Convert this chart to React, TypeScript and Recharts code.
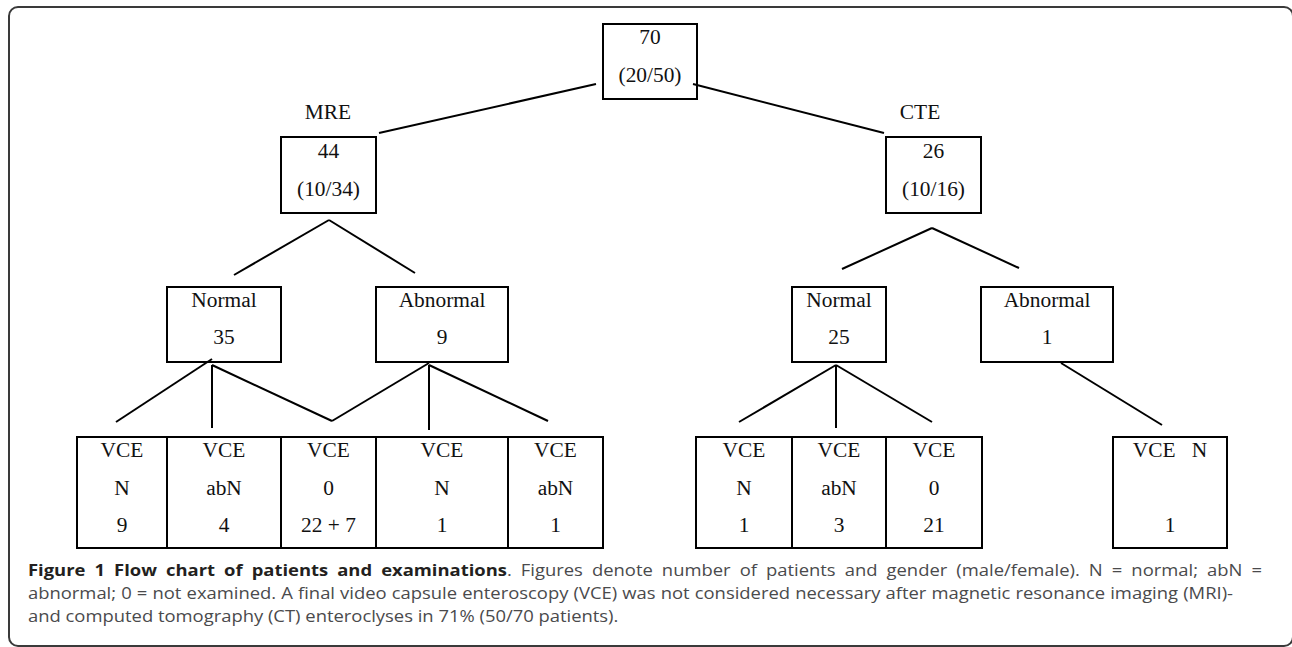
import React from 'react';
import { ScatterChart, XAxis, YAxis, Scatter, ReferenceArea, ReferenceLine } from 'recharts';

// ---------- data ----------
const rootPatients = '70';
const rootGender = '(20/50)';
const armNames = ['MRE', 'CTE'];
const armPatients = ['44', '26'];
const armGender = ['(10/34)', '(10/16)'];
const findingNames = ['Normal', 'Abnormal', 'Normal', 'Abnormal'];
const findingPatients = ['35', '9', '25', '1'];
const vceHeader = 'VCE';
const vceResults = ['N', 'abN', '0', 'N', 'abN', 'N', 'abN', '0', 'N'];
const vceCounts = ['9', '4', '22 + 7', '1', '1', '1', '3', '21', '1'];
const captionTitle = 'Figure 1 Flow chart of patients and examinations';
const captionLines = [
  '. Figures denote number of patients and gender (male/female). N = normal; abN =',
  'abnormal; 0 = not examined. A final video capsule enteroscopy (VCE) was not considered necessary after magnetic resonance imaging (MRI)-',
  'and computed tomography (CT) enteroclyses in 71% (50/70 patients).',
];

// ---------- layout (chart units = page pixels) ----------
const W = 1292;
const H = 647;
const rootBox = [603, 697, 24, 99];
const armBoxes = [[281, 376, 137, 213], [886, 981, 137, 213]];
const armLabelPos = [[328, 112.5], [920, 112.5]];
const findingBoxes = [[167, 281, 287, 362], [376, 508, 287, 362], [792, 886, 287, 362], [981, 1113, 287, 362]];
const vceCols = [[77, 167], [167, 281], [281, 376], [376, 508], [508, 603], [696, 792], [792, 886], [886, 982], [1113, 1227]];
const vceTop = 437;
const vceBottom = 548;
const inlineResultIndex = 8;
const connectors = [
  [596, 84, 379, 133], [693, 84, 884, 133],
  [329, 220, 234, 275], [329, 220, 415, 273],
  [932, 228, 842, 269], [932, 228, 1019, 268],
  [212, 359, 116, 422], [212, 365, 212, 428], [212, 365, 332, 421], [332, 421, 429, 363], [429, 365, 429, 430], [429, 365, 548, 421],
  [836, 365, 739, 422], [836, 365, 836, 428], [836, 365, 932, 422],
  [1061, 363, 1162, 425],
];
const captionScale = 1.15;
const captionFont = 16;

type T = { x: number; y: number; text: string };
const texts: T[] = [];
const cx = (b: number[]) => (b[0] + b[1]) / 2;
texts.push({ x: cx(rootBox), y: rootBox[2] + 13, text: rootPatients });
texts.push({ x: cx(rootBox), y: rootBox[2] + 51, text: rootGender });
armBoxes.forEach((b, i) => {
  texts.push({ x: armLabelPos[i][0], y: armLabelPos[i][1], text: armNames[i] });
  texts.push({ x: cx(b), y: b[2] + 14.5, text: armPatients[i] });
  texts.push({ x: cx(b), y: b[2] + 52, text: armGender[i] });
});
findingBoxes.forEach((b, i) => {
  texts.push({ x: cx(b), y: b[2] + 13, text: findingNames[i] });
  texts.push({ x: cx(b), y: b[2] + 50, text: findingPatients[i] });
});
vceCols.forEach((c, i) => {
  const x = (c[0] + c[1]) / 2;
  if (i === inlineResultIndex) {
    texts.push({ x, y: vceTop + 13, text: vceHeader + '\u00A0\u00A0\u00A0' + vceResults[i] });
  } else {
    texts.push({ x, y: vceTop + 13, text: vceHeader });
    texts.push({ x, y: vceTop + 51, text: vceResults[i] });
  }
  texts.push({ x, y: vceTop + 88, text: vceCounts[i] });
});

const TextShape = (p: any) => (
  <text
    transform={`translate(${p.cx},${p.cy}) scale(1.07,1)`}
    x={0}
    y={0}
    dy="0.34em"
    textAnchor="middle"
    fontFamily="'Liberation Serif', 'Times New Roman', serif"
    fontSize={20}
    fill="#111"
  >
    {p.payload.text}
  </text>
);

const boxes = [rootBox, ...armBoxes, ...findingBoxes, ...vceCols.map((c) => [c[0], c[1], vceTop, vceBottom])];

export default function App() {
  return (
    <div style={{ position: 'absolute', left: 0, top: 0, width: W, height: H, background: '#fff', overflow: 'hidden' }}>
      <div
        style={{
          position: 'absolute', left: 8, top: 6, width: 1286, height: 641,
          boxSizing: 'border-box', border: '2px solid #3a3a3a', borderRadius: 10,
        }}
      />
      <div style={{ position: 'absolute', left: 0, top: 0 }}>
        <ScatterChart width={W} height={H} margin={{ top: 0, right: 0, bottom: 0, left: 0 }}>
          <XAxis type="number" dataKey="x" domain={[0, W]} hide allowDataOverflow />
          <YAxis type="number" dataKey="y" domain={[0, H]} reversed hide allowDataOverflow />
          {connectors.map((s, i) => (
            <ReferenceLine
              key={'l' + i}
              segment={[{ x: s[0], y: s[1] }, { x: s[2], y: s[3] }]}
              stroke="#000"
              strokeWidth={2}
              ifOverflow="visible"
            />
          ))}
          {boxes.map((b, i) => (
            <ReferenceArea
              key={'b' + i}
              x1={b[0]} x2={b[1]} y1={b[2]} y2={b[3]}
              fill="none" fillOpacity={0}
              stroke="#000" strokeWidth={2}
              ifOverflow="visible"
            />
          ))}
          <Scatter data={texts} dataKey="y" shape={TextShape} isAnimationActive={false} />
        </ScatterChart>
      </div>
      {[0, 1, 2].map((i) => (
        <div
          key={'c' + i}
          style={{
            position: 'absolute', left: 28, top: 559 + i * 23,
            width: i === 0 ? 1234 / captionScale : i === 1 ? 1205 / captionScale : undefined,
            whiteSpace: 'nowrap',
            fontFamily: "'Open Sans', sans-serif", fontSize: captionFont, lineHeight: '23px',
            color: '#4a4a4c',
            textAlign: i < 2 ? 'justify' : 'left',
            textAlignLast: i < 2 ? 'justify' : 'auto',
            transform: `scaleX(${captionScale})`,
            transformOrigin: '0 0',
          } as React.CSSProperties}
        >
          {i === 0 && <b style={{ color: '#231f20' }}>{captionTitle}</b>}
          {captionLines[i]}
        </div>
      ))}
    </div>
  );
}
